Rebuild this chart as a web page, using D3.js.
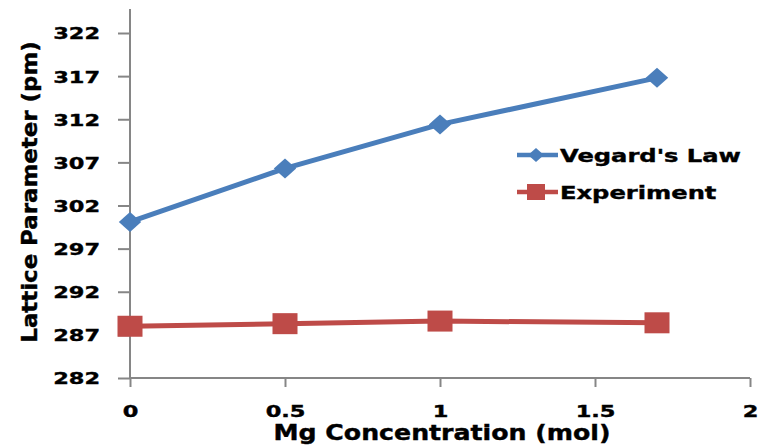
<!DOCTYPE html>
<html>
<head>
<meta charset="utf-8">
<script src="https://cdn.jsdelivr.net/npm/d3@7"></script>
<style>
  html, body { margin: 0; padding: 0; background: #fff; }
  svg text { font-family: "DejaVu Sans", Verdana, sans-serif; font-weight: bold; fill: #000; stroke: #000; stroke-width: 0.4px; }
</style>
</head>
<body>
<svg id="chart" width="764" height="448"></svg>
<script>
// Mg concentration (mol) and lattice parameters (pm)
const concentration = [0, 0.5, 1, 1.7];
const vegardsLaw = [300.1, 306.3, 311.4, 316.8];
const experiment = [288.0, 288.3, 288.6, 288.4];
const yTicks = [282, 287, 292, 297, 302, 307, 312, 317, 322];
const xTicks = [0, 0.5, 1, 1.5, 2];
const seriesNames = ["Vegard's Law", "Experiment"];

const svg = d3.select("#chart");
const axisColor = "#868686";
const blue = "#4a7ebb";
const red = "#be4b48";
const FONT = "DejaVu Sans, Verdana, sans-serif";
const WIDEN = 1.36; // wide lettering used throughout

const x = d3.scaleLinear().domain([0, 2]).range([130, 750]);
const y = d3.scaleLinear().domain([282, 322]).range([378, 33]);

// stretch a text along its baseline while keeping its anchor
function widen(sel, factor) {
  sel.each(function () {
    const w = this.getComputedTextLength();
    d3.select(this).attr("textLength", w * factor).attr("lengthAdjust", "spacingAndGlyphs");
  });
}

// Y axis
const yAxis = svg.append("g").attr("transform", `translate(${x(0)},0)`)
  .call(d3.axisLeft(y).tickValues(yTicks).tickSize(12).tickPadding(18).tickFormat(d3.format("d")));
yAxis.select(".domain").remove();
yAxis.append("line").attr("x1", 0).attr("x2", 0).attr("y1", 9).attr("y2", y(282))
  .attr("stroke", axisColor).attr("stroke-width", 2);
yAxis.selectAll(".tick line").attr("stroke", axisColor).attr("stroke-width", 2);
yAxis.selectAll(".tick text").attr("font-size", 16.5).attr("font-weight", "bold")
  .attr("font-family", FONT).attr("fill", "#000").attr("dy", "0.36em")
  .call(widen, WIDEN);

// X axis
const xAxis = svg.append("g").attr("transform", `translate(0,${y(282)})`)
  .call(d3.axisBottom(x).tickValues(xTicks).tickSize(9).tickFormat(d => String(d)));
xAxis.select(".domain").remove();
xAxis.append("line").attr("x1", x(0)).attr("x2", x(2)).attr("y1", 0).attr("y2", 0)
  .attr("stroke", axisColor).attr("stroke-width", 2);
xAxis.selectAll(".tick line").attr("stroke", axisColor).attr("stroke-width", 2);
xAxis.selectAll(".tick text").attr("font-size", 16.5).attr("font-weight", "bold")
  .attr("font-family", FONT).attr("fill", "#000").attr("y", 39).attr("dy", 0)
  .call(widen, WIDEN);

// Axis titles
svg.append("text").attr("x", 442).attr("y", 440).attr("text-anchor", "middle")
  .attr("font-size", 21).text("Mg Concentration (mol)").call(widen, 1.2);
svg.append("text").attr("transform", `translate(37,192) rotate(-90)`)
  .attr("text-anchor", "middle").attr("font-size", 21).text("Lattice Parameter (pm)")
  .call(widen, 1.09);

// Series lines
const line = d3.line().x((d, i) => x(concentration[i])).y(d => y(d));
svg.append("path").datum(vegardsLaw).attr("d", line).attr("fill", "none")
  .attr("stroke", blue).attr("stroke-width", 5).attr("stroke-linejoin", "round");
svg.append("path").datum(experiment).attr("d", line).attr("fill", "none")
  .attr("stroke", red).attr("stroke-width", 5).attr("stroke-linejoin", "round");

// Diamond marker, slightly wider than tall
const wideDiamond = {
  draw(ctx, size) {
    const h = Math.sqrt(size) / 2;
    const w = h * 1.12;
    ctx.moveTo(0, -h); ctx.lineTo(w, 0); ctx.lineTo(0, h); ctx.lineTo(-w, 0); ctx.closePath();
  }
};

// Markers
svg.selectAll(".vmark").data(vegardsLaw).join("path")
  .attr("transform", (d, i) => `translate(${x(concentration[i])},${y(d)})`)
  .attr("d", d3.symbol().type(wideDiamond).size(400)).attr("fill", blue);
svg.selectAll(".emark").data(experiment).join("rect")
  .attr("x", (d, i) => x(concentration[i]) - 12.5).attr("y", d => y(d) - 10.5)
  .attr("width", 25).attr("height", 21).attr("fill", red);

// Legend
const legend = [
  { name: seriesNames[0], color: blue, yPos: 155, marker: "diamond" },
  { name: seriesNames[1], color: red, yPos: 192, marker: "square" }
];
legend.forEach(l => {
  const g = svg.append("g");
  g.append("line").attr("x1", 517).attr("x2", 558).attr("y1", l.yPos).attr("y2", l.yPos)
    .attr("stroke", l.color).attr("stroke-width", 4.5);
  if (l.marker === "diamond") {
    g.append("path").attr("transform", `translate(536,${l.yPos})`)
      .attr("d", d3.symbol().type(wideDiamond).size(196)).attr("fill", l.color);
  } else {
    g.append("rect").attr("x", 527).attr("y", l.yPos - 8).attr("width", 18).attr("height", 16)
      .attr("fill", l.color);
  }
  g.append("text").attr("x", 560).attr("y", l.yPos + 6.5).attr("font-size", 17.8)
    .text(l.name).call(widen, WIDEN);
});
</script>
</body>
</html>
